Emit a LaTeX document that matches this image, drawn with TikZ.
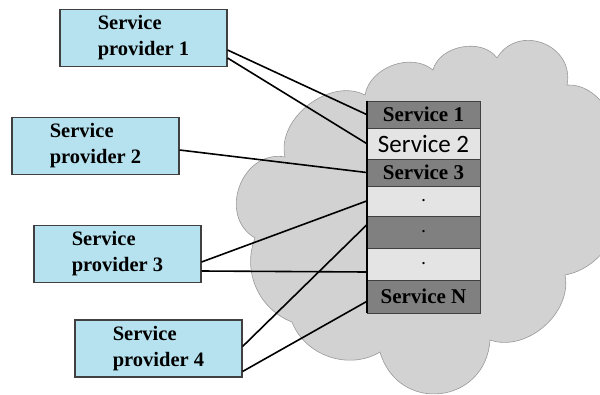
\documentclass[tikz,border=0pt]{standalone}
\usepackage{fontspec}
\setmainfont{Liberation Serif}
\newfontfamily\calfont{Carlito}
\usetikzlibrary{calc}
\definecolor{provblue}{RGB}{182,226,239}
\definecolor{cloudgray}{RGB}{210,210,210}
\definecolor{darkrow}{RGB}{128,128,128}
\definecolor{lightrow}{RGB}{228,228,228}

\begin{document}
\begin{tikzpicture}[x=1pt,y=-1pt,
provider/.style={rectangle,draw=black!75,line width=1.1pt,fill=provblue,
  minimum width=167pt,minimum height=57pt,align=left,inner sep=0pt,
  font=\fontsize{20.5}{26}\selectfont\bfseries},
srow/.style={rectangle,draw=black!75,line width=0.8pt,minimum width=113pt,inner sep=0pt,
  font=\fontsize{21}{24}\selectfont\bfseries},
dotrow/.style={srow,font=\fontsize{14}{16}\selectfont\bfseries}]
\useasboundingbox (0,0) rectangle (600,394);
\fill[white] (0,0) rectangle (600,394);
% cloud
\begin{scope}
\clip (0,0) rectangle (600,394);
\filldraw[fill=cloudgray,draw=black!40,line width=0.6pt]
  (365,95) to[bend left=60] (433,70) to[bend left=65] (497,58)
  to[bend left=80,looseness=1.4] (567,85) to[bend left=60] (610,150)
  to[bend left=60] (565,275) to[bend left=60] (490,340)
  to[bend left=80,looseness=1.5] (380,352) to[bend left=50] (292,322)
  to[bend left=45] (255,238) to[bend left=80,looseness=1.3] (285,157)
  to[bend left=65] cycle;
\end{scope}
\node[provider](p1) at (143.5,38){Service\\provider 1};
\node[provider](p2) at (95.5,146){Service\\provider 2};
\node[provider](p3) at (117.5,254){Service\\provider 3};
\node[provider](p4) at (158.5,348.5){Service\\provider 4};
\node[srow,fill=darkrow,minimum height=27pt](s1) at (423.5,114.5){Service 1};
\node[srow,fill=lightrow,minimum height=31pt,font=\fontsize{25}{28}\selectfont\calfont](s2) at (423.5,143.5){Service 2};
\node[srow,fill=darkrow,minimum height=27pt](s3) at (423.5,172.5){Service 3};
\node[dotrow,fill=lightrow,minimum height=30pt](d1) at (423.5,201){.};
\node[dotrow,fill=darkrow,minimum height=32pt](d2) at (423.5,232){.};
\node[dotrow,fill=lightrow,minimum height=32pt](d3) at (423.5,264){.};
\node[srow,fill=darkrow,minimum height=33pt](sn) at (423.5,296.5){Service N};
\draw[line width=2pt] (s1.north west)--(sn.south west);
\begin{scope}[line width=1.6pt]
\draw ($(p1.east)+(0,12)$)--(s1.west);
\draw ($(p1.east)+(0,20)$)--(s2.west);
\draw ($(p2.east)+(0,4)$)--(s3.west);
\draw ($(p3.east)+(0,8)$)--(d1.west);
\draw ($(p3.east)+(0,17)$)--($(d3.west)+(0,8)$);
\draw ($(p4.east)+(0,-2)$)--($(d2.west)+(0,-7)$);
\draw ($(p4.east)+(0,23)$)--($(sn.west)+(0,5)$);
\end{scope}
\end{tikzpicture}
\end{document}
